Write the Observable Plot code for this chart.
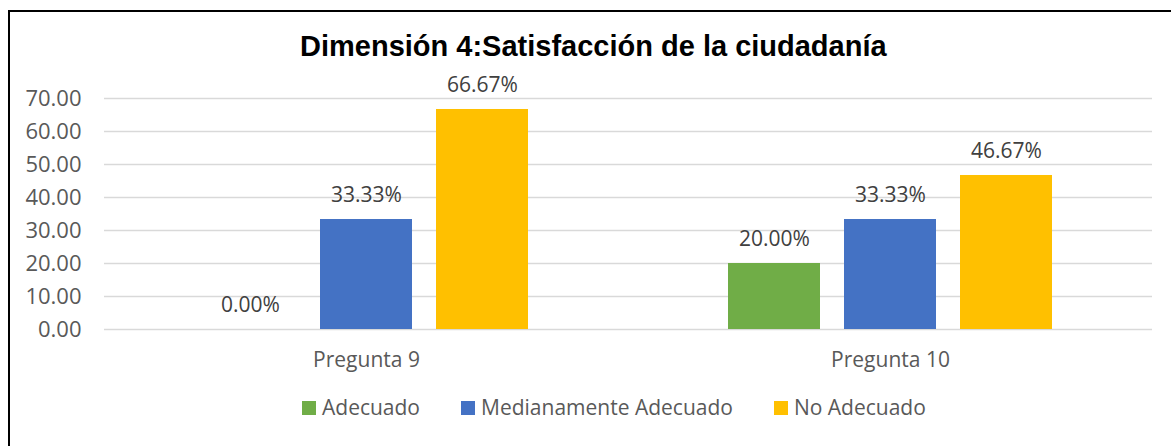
<!DOCTYPE html>
<html>
<head>
<meta charset="utf-8">
<script src="https://cdn.jsdelivr.net/npm/d3@7"></script>
<script src="https://cdn.jsdelivr.net/npm/@observablehq/plot@0.6"></script>
<style>
  html, body { margin: 0; padding: 0; background: #fff; overflow: hidden; width: 1171px; height: 446px; }
  #wrap { position: relative; width: 1171px; height: 446px; }
  #frame { position: absolute; left: 8px; top: 10px; width: 2000px; height: 2000px; border-top: 2px solid #000; border-left: 2px solid #000; box-sizing: border-box; }
  #title { position: absolute; top: 32px; left: 300px; text-align: left; font: bold 29px "Liberation Sans", Arial, sans-serif; line-height: 29px; color: #000; white-space: nowrap; }
  #chart { position: absolute; left: 0; top: 0; }
  #legend { position: absolute; top: 393px; left: 302px; display: flex; align-items: center; font: 21px "Open Sans", sans-serif; color: #595959; white-space: nowrap; line-height: 29px; }
  .item { display: flex; align-items: center; margin-right: 41px; }
  .sw { width: 14px; height: 14px; margin-right: 6px; }
</style>
</head>
<body>
<div id="wrap">
  <div id="chart"></div>
  <div id="frame"></div>
  <div id="title"></div>
  <div id="legend"></div>
</div>
<script>
const title = "Dimensión 4:Satisfacción de la ciudadanía";
const preguntas = ["Pregunta 9", "Pregunta 10"];
const series = ["Adecuado", "Medianamente Adecuado", "No Adecuado"];
const colors = ["#70AD47", "#4472C4", "#FFC000"];
const adecuado = [0.00, 20.00];
const medianamente = [33.33, 33.33];
const noAdecuado = [66.67, 46.67];
const yTicks = [0, 10, 20, 30, 40, 50, 60, 70];

const seriesValues = [adecuado, medianamente, noAdecuado];
const data = [];
preguntas.forEach((p, i) => {
  series.forEach((s, j) => data.push({pregunta: p, serie: s, value: seriesValues[j][i]}));
});

document.getElementById("title").textContent = title;

const plot = Plot.plot({
  width: 1171,
  height: 446,
  marginLeft: 103,
  marginRight: 19,
  marginTop: 98,
  marginBottom: 117,
  style: {fontFamily: "'Open Sans', sans-serif", background: "transparent"},
  fx: {domain: preguntas, padding: 0, label: null},
  x: {domain: series, paddingInner: 0.21, paddingOuter: 0.86, axis: null},
  y: {domain: [0, 70], label: null},
  color: {domain: series, range: colors},
  marks: [
    Plot.gridY(yTicks, {stroke: "#d9d9d9", strokeOpacity: 1, strokeWidth: 1.5}),
    Plot.axisY(yTicks, {tickSize: 0, tickPadding: 23, tickFormat: d => d.toFixed(2), fontSize: 22, fill: "#595959", label: null}),
    Plot.axisFx({anchor: "bottom", tickSize: 0, tickPadding: 23, fontSize: 21, fill: "#595959", label: null}),
    Plot.barY(data, {fx: "pregunta", x: "serie", y: "value", fill: "serie"}),
    Plot.text(data, {fx: "pregunta", x: "serie", y: "value", text: d => d.value.toFixed(2) + "%", dy: -24.5, fontSize: 21, fill: "#404040"})
  ]
});
document.getElementById("chart").appendChild(plot);

const legend = document.getElementById("legend");
series.forEach((s, i) => {
  const item = document.createElement("div");
  item.className = "item";
  const sw = document.createElement("div");
  sw.className = "sw";
  sw.style.background = colors[i];
  const t = document.createElement("span");
  t.textContent = s;
  item.appendChild(sw);
  item.appendChild(t);
  legend.appendChild(item);
});
</script>
</body>
</html>
